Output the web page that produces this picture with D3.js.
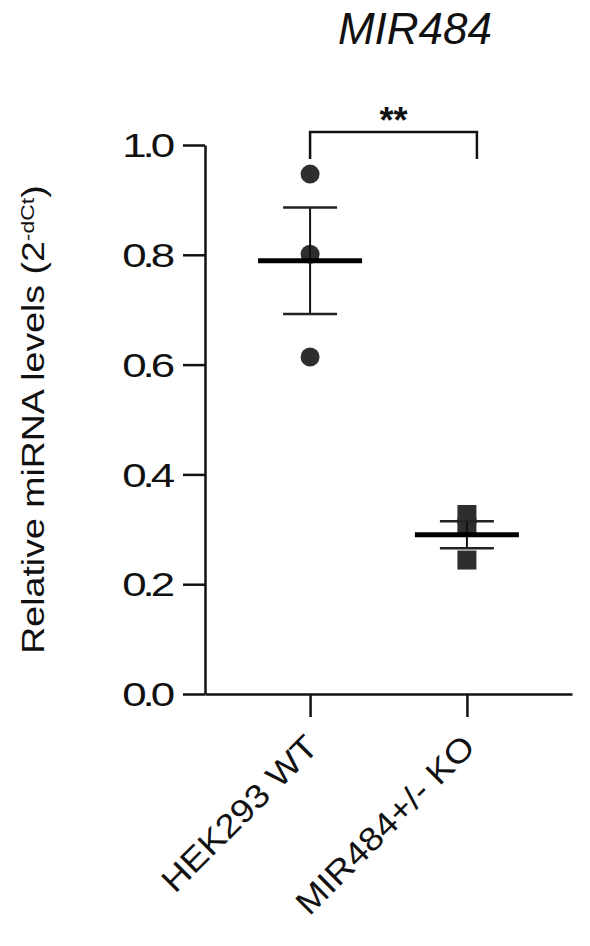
<!DOCTYPE html>
<html>
<head>
<meta charset="utf-8">
<script src="https://cdn.jsdelivr.net/npm/d3@7"></script>
<style>
  body { margin: 0; background: #fff; }
  text { font-family: "Liberation Sans", Arial, sans-serif; fill: #111; }
</style>
</head>
<body>
<div id="chart"></div>
<script>

// Groups, individual replicates and the summary (mean +/- SEM)

var groups = ["HEK293 WT", "MIR484+/- KO"];

var wtValues = [0.947, 0.801, 0.614],
    koValues = [0.327, 0.304, 0.244];

var means = [0.789, 0.290],
    sems = [0.097, 0.0245];

var yTicks = [0, 0.2, 0.4, 0.6, 0.8, 1.0];

var margin = { top: 145, right: 18, bottom: 252, left: 205 },
    width = 590 - margin.left - margin.right,
    height = 946 - margin.top - margin.bottom;

var xScale = d3.scalePoint()
    .domain(groups)
    .range([0, width])
    .padding(0.67);

var yScale = d3.scaleLinear()
    .domain([0, 1])
    .range([height, 0]);

var svg = d3.select("#chart").append("svg")
    .attr("width", width + margin.left + margin.right)
    .attr("height", height + margin.top + margin.bottom)
  .append("g")
    .attr("transform", "translate(" + margin.left + "," + margin.top + ")");

// Axes

var yAxis = svg.append("g")
    .attr("class", "y-axis")
    .call(d3.axisLeft(yScale)
      .tickValues(yTicks)
      .tickSize(22)
      .tickSizeOuter(0)
      .tickFormat(d3.format(".1f")));

yAxis.selectAll("line, path")
    .attr("stroke", "#111")
    .attr("stroke-width", 2.5);

// the digits in the original are round and wide, so they are stretched and packed a bit tighter

yAxis.selectAll("text")
    .attr("x", null)
    .attr("dy", "0.36em")
    .attr("transform", "translate(-34,0) scale(1.35,1)")
    .style("font-size", "32.5px")
    .style("letter-spacing", "-3px")
    .style("font-family", "'Liberation Sans', Arial, sans-serif")
    .attr("fill", "#111");

var xAxis = svg.append("g")
    .attr("class", "x-axis")
    .attr("transform", "translate(0," + height + ")")
    .call(d3.axisBottom(xScale)
      .tickSize(23)
      .tickSizeOuter(0)
      .tickFormat(""));

xAxis.selectAll("line, path")
    .attr("stroke", "#111")
    .attr("stroke-width", 2.5);

// Rotated category labels end just below each tick

xAxis.selectAll(".x-label")
    .data(groups)
  .enter().append("text")
    .attr("class", "x-label")
    .attr("text-anchor", "end")
    .attr("transform", function(d) {
      return "translate(" + (xScale(d) + 10) + ",55) rotate(-45) scale(1.12,1)";
    })
    .style("font-size", "33px")
    .text(function(d) { return d; });

// Y axis title with the superscript exponent

var yLabel = svg.append("text")
    .attr("text-anchor", "middle")
    .attr("transform", "translate(" + (44 - margin.left) + "," + (height / 2) + ") rotate(-90) scale(1.21,1)")
    .style("font-size", "31px");

yLabel.append("tspan").text("Relative miRNA levels (2");
yLabel.append("tspan")
    .attr("dy", "-0.55em")
    .style("font-size", "19px")
    .text("-dCt");
yLabel.append("tspan")
    .attr("dy", "0.34em")
    .text(")");

// Title

svg.append("text")
    .attr("x", 415 - margin.left)
    .attr("y", 44 - margin.top)
    .attr("text-anchor", "middle")
    .style("font-size", "44px")
    .style("font-style", "italic")
    .text("MIR484");

// Replicate points: circles for WT, squares for the knock-out

var sq = 19;

svg.append("g")
    .attr("class", "points-wt")
  .selectAll("circle")
    .data(wtValues)
  .enter().append("circle")
    .attr("cx", xScale(groups[0]))
    .attr("cy", function(d) { return yScale(d); })
    .attr("r", 9.5)
    .attr("fill", "#2e2e2e");

svg.append("g")
    .attr("class", "points-ko")
  .selectAll("rect")
    .data(koValues)
  .enter().append("rect")
    .attr("x", xScale(groups[1]) - sq / 2)
    .attr("y", function(d) { return yScale(d) - sq / 2; })
    .attr("width", sq)
    .attr("height", sq)
    .attr("fill", "#2e2e2e");

// Mean line and SEM error bars

var summary = svg.append("g")
    .attr("class", "summary")
  .selectAll("g")
    .data(groups)
  .enter().append("g");

summary.append("line")
    .attr("x1", function(d) { return xScale(d); })
    .attr("x2", function(d) { return xScale(d); })
    .attr("y1", function(d, i) { return yScale(means[i] + sems[i]); })
    .attr("y2", function(d, i) { return yScale(means[i] - sems[i]); })
    .attr("stroke", "#111")
    .attr("stroke-width", 2);

summary.selectAll(".cap")
    .data(function(d, i) {
      return [means[i] + sems[i], means[i] - sems[i]].map(function(v) { return { g: d, v: v }; });
    })
  .enter().append("line")
    .attr("class", "cap")
    .attr("x1", function(d) { return xScale(d.g) - 27; })
    .attr("x2", function(d) { return xScale(d.g) + 27; })
    .attr("y1", function(d) { return yScale(d.v); })
    .attr("y2", function(d) { return yScale(d.v); })
    .attr("stroke", "#222")
    .attr("stroke-width", 2.5);

summary.append("line")
    .attr("x1", function(d) { return xScale(d) - 52; })
    .attr("x2", function(d) { return xScale(d) + 52; })
    .attr("y1", function(d, i) { return yScale(means[i]); })
    .attr("y2", function(d, i) { return yScale(means[i]); })
    .attr("stroke", "#000")
    .attr("stroke-width", 5);

// Significance bracket

var bracketTop = yScale(1.0) - 13,
    bracketFoot = yScale(1.0) + 14,
    bx1 = xScale(groups[0]),
    bx2 = xScale(groups[1]) + 10;

svg.append("path")
    .attr("d", "M" + bx1 + "," + bracketFoot + "V" + bracketTop + "H" + bx2 + "V" + bracketFoot)
    .attr("fill", "none")
    .attr("stroke", "#111")
    .attr("stroke-width", 2.5);

svg.append("text")
    .attr("x", (bx1 + bx2) / 2)
    .attr("y", bracketTop + 1)
    .attr("text-anchor", "middle")
    .style("font-size", "36px")
    .style("font-weight", "bold")
    .text("**");

</script>
</body>
</html>
